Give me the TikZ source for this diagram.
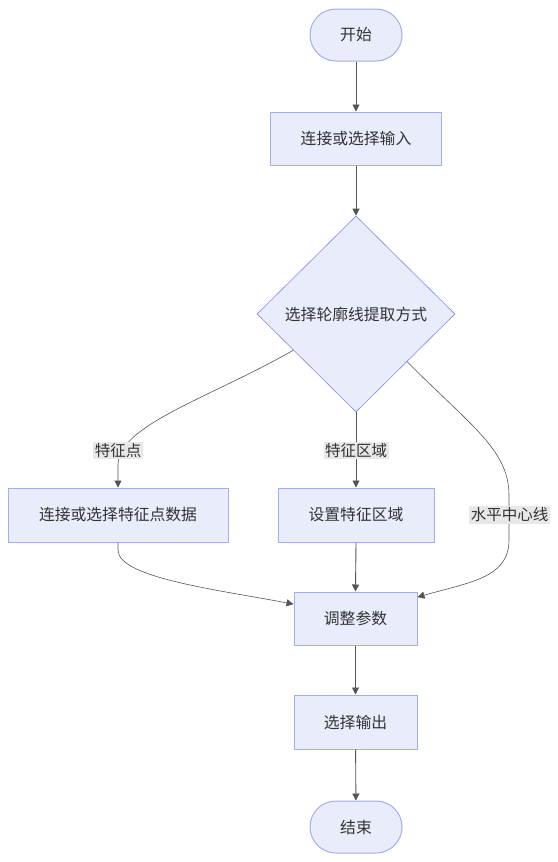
\documentclass[tikz,border=0pt]{standalone}
\usepackage{fontspec}
\setmainfont{Noto Sans CJK SC}
\usetikzlibrary{shapes.geometric,arrows.meta}
\definecolor{boxfill}{HTML}{E8ECFB}
\definecolor{boxline}{HTML}{A3AEEA}
\definecolor{edgeline}{HTML}{555555}
\definecolor{lblfill}{HTML}{E8E8E8}
\definecolor{txt}{HTML}{333333}
\begin{document}
\begin{tikzpicture}[x=1pt,y=-1pt,
  box/.style={draw=boxline,fill=boxfill,line width=1pt,inner sep=0pt,text=txt,font=\fontsize{15.8}{18}\selectfont},
  term/.style={box,rounded corners=26pt,minimum width=92pt,minimum height=52pt},
  choice/.style={box,diamond,line width=0.6pt,draw=boxline!80!blue,minimum width=198pt,minimum height=196pt},
  edge/.style={draw=edgeline,line width=0.9pt,-{Triangle[length=7pt,width=7pt]}},
  lbl/.style={fill=lblfill,inner sep=1.5pt,text=txt,font=\fontsize{15.5}{17}\selectfont}]
\useasboundingbox (0,0) rectangle (557,862);

\node[term] (start) at (356,35) {开始};
\node[box,minimum width=171pt,minimum height=53pt] (input) at (356,138.5) {连接或选择输入};
\node[choice] (mode) at (356,314) {选择轮廓线提取方式};
\node[box,minimum width=220pt,minimum height=54pt] (pts) at (118,515) {连接或选择特征点数据};
\node[box,minimum width=156pt,minimum height=54pt] (area) at (356,515) {设置特征区域};
\node[box,minimum width=123pt,minimum height=53pt] (adjust) at (355.5,618.5) {调整参数};
\node[box,minimum width=123pt,minimum height=54pt] (output) at (355.5,722) {选择输出};
\node[term] (stop) at (356,827) {结束};

% edges
\draw[edge] (start) -- (input);
\draw[edge] (input) -- (mode);
\draw[edge,line width=0.6pt] (mode.210) .. controls (210,398) and (118,425) .. (118,465) -- (pts.north);
\draw[edge] (mode.south) -- (area.north);
\draw[edge,line width=0.6pt] (mode.-43) .. controls (470,425) and (509,450) .. (509,495) -- (509,540) .. controls (509,578) and (470,582) .. (adjust.19);
\draw[edge,line width=0.6pt] (pts.south) -- (118,550) .. controls (118,578) and (220,590) .. (adjust.167);
\draw[edge] (area.south) -- (adjust.north);
\draw[edge] (adjust) -- (output);
\draw[edge] (output) -- (stop);

% labels
\node[lbl] (l1) at (118,450.5) {特征点};
\node[lbl] (l2) at (356,450.5) {特征区域};
\node[lbl] (l3) at (509.5,515) {水平中心线};
\end{tikzpicture}
\end{document}
